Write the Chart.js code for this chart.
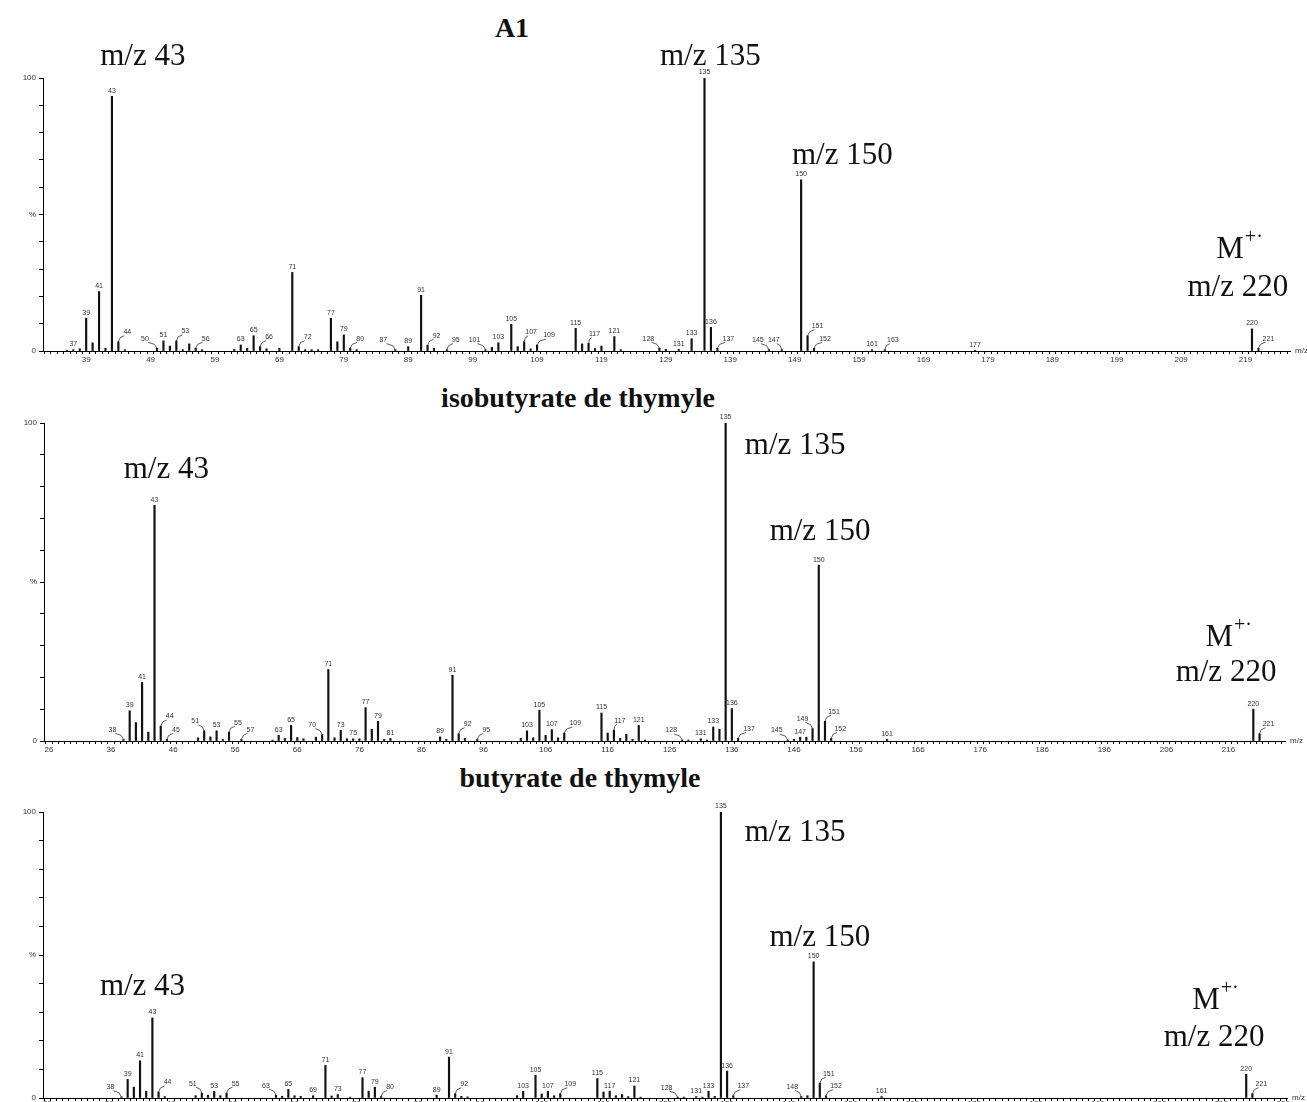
<!DOCTYPE html>
<html>
<head>
<meta charset="utf-8">
<script src="https://cdn.jsdelivr.net/npm/chart.js@4.4.0/dist/chart.umd.min.js"></script>
<style>
  body { margin: 0; width: 1307px; height: 1102px; overflow: hidden; background: #fff; position: relative; }
  canvas { position: absolute; left: 0; }
  .title { position: absolute; font-family: "Liberation Serif", serif; font-weight: bold; font-size: 28px;
           color: #111; white-space: nowrap; transform: translate(-50%, -50%); }
</style>
</head>
<body>
<div class="title" style="left:512px; top:28px;">A1</div>
<div class="title" style="left:578px; top:398px;">isobutyrate de thymyle</div>
<div class="title" style="left:580px; top:778px;">butyrate de thymyle</div>
<canvas id="specA1" width="1307" height="372" style="top:0px"></canvas>
<canvas id="specIso" width="1307" height="390" style="top:372px"></canvas>
<canvas id="specBut" width="1307" height="357" style="top:762px"></canvas>
<script>
// A1 spectrum (m/z, relative intensity %)
var mzA1 = [36, 37, 38, 39, 40, 41, 42, 43, 44, 45, 50, 51, 52, 53, 54, 55, 56, 57, 62, 63, 64, 65, 66, 67, 69,
  71, 72, 73, 74, 75, 77, 78, 79, 80, 81, 87, 89, 91, 92, 93, 95, 101, 102, 103, 105, 106, 107, 108, 109,
  115, 116, 117, 118, 119, 121, 122, 128, 129, 131, 133, 135, 136, 137, 145, 147, 150, 151, 152, 161, 163,
  177, 220, 221];
var intA1 = [0.3, 0.5, 0.8, 12, 3, 21.8, 1, 93.3, 3.4, 0.5, 1, 3.7, 1.8, 3.7, 0.5, 2.6, 1, 0.5, 0.6, 2.2, 1, 5.6, 1.6, 0.8, 1,
  28.8, 1.6, 0.5, 0.5, 0.5, 12, 3.4, 5.9, 1, 0.5, 0.5, 1.6, 20.4, 2.1, 1, 0.5, 0.5, 1.3, 3, 9.8, 1.6, 3.4, 0.8, 2.2,
  8.3, 2.6, 2.8, 0.9, 1.8, 5.3, 0.5, 1, 0.6, 0.6, 4.5, 100, 8.7, 1, 0.5, 0.5, 62.7, 5.6, 1, 0.5, 0.5,
  0.3, 8.1, 1];
var tagA1 = [37, 39, 41, 43, 44, 50, 51, 53, 56, 63, 65, 66, 71, 72, 77, 79, 80, 87, 89, 91, 92, 95, 101, 103, 105,
  107, 109, 115, 117, 121, 128, 131, 133, 135, 136, 137, 145, 147, 150, 151, 152, 161, 163, 177, 220, 221];

// isobutyrate de thymyle
var mzIso = [38, 39, 40, 41, 42, 43, 44, 45, 50, 51, 52, 53, 54, 55, 57, 62, 63, 64, 65, 66, 67, 69, 70, 71, 72,
  73, 74, 75, 76, 77, 78, 79, 80, 81, 89, 90, 91, 92, 93, 95, 102, 103, 104, 105, 106, 107, 108, 109, 115, 116,
  117, 118, 119, 120, 121, 122, 128, 129, 131, 132, 133, 134, 135, 136, 137, 145, 146, 147, 148, 149, 150, 151,
  152, 161, 220, 221];
var intIso = [0.5, 9.5, 5.8, 18.4, 2.8, 74.1, 4.7, 0.5, 1, 3.2, 1.3, 3.2, 0.5, 2.8, 0.5, 0.3, 1.8, 0.8, 4.9, 1.1, 0.7, 1.2, 2, 22.5, 1,
  3.4, 0.7, 0.7, 0.7, 10.5, 3.7, 6.2, 0.5, 0.8, 1.3, 0.5, 20.7, 2.3, 0.8, 0.5, 0.8, 3.2, 1, 9.7, 1.8, 3.6, 1, 2.5, 8.8, 2.5,
  3.4, 0.8, 2.1, 0.5, 4.9, 0.3, 0.3, 0.3, 0.7, 0.3, 4.4, 3.7, 100, 10.2, 0.8, 0.3, 0.5, 1.2, 1.2, 3.9, 55.3, 6.2,
  0.8, 0.5, 10, 2.3];
var tagIso = [38, 39, 41, 43, 44, 45, 51, 53, 55, 57, 63, 65, 70, 71, 73, 75, 77, 79, 81, 89, 91, 92, 95, 103, 105,
  107, 109, 115, 117, 121, 128, 131, 133, 135, 136, 137, 145, 147, 149, 150, 151, 152, 161, 220, 221];

// butyrate de thymyle
var mzBut = [38, 39, 40, 41, 42, 43, 44, 45, 50, 51, 52, 53, 54, 55, 63, 64, 65, 66, 67, 69, 71, 72, 73, 75, 77,
  78, 79, 80, 89, 91, 92, 93, 94, 102, 103, 105, 106, 107, 108, 109, 115, 116, 117, 118, 119, 120, 121, 122,
  128, 129, 131, 132, 133, 134, 135, 136, 137, 148, 149, 150, 151, 152, 161, 220, 221];
var intBut = [0.4, 6.5, 3.8, 13, 2.4, 28, 2.1, 0.5, 0.8, 1.7, 1, 2.3, 0.8, 1.7, 1, 0.6, 3, 0.8, 0.6, 0.8, 11.4, 0.7, 1.2, 0.3, 7.1,
  2.4, 3.8, 0.5, 1, 14.3, 1.5, 0.6, 0.4, 0.8, 2.3, 7.9, 1.4, 2.4, 0.8, 1.5, 6.8, 2.1, 2.4, 0.8, 1.2, 0.5, 4.2, 0.3,
  0.3, 0.3, 0.5, 0.3, 2.4, 0.6, 100, 9.4, 0.8, 0.5, 0.8, 47.6, 5.2, 0.8, 0.5, 8.3, 1.5];
var tagBut = [38, 39, 41, 43, 44, 51, 53, 55, 63, 65, 69, 71, 73, 77, 79, 80, 89, 91, 92, 103, 105, 107, 109, 115,
  117, 121, 128, 131, 133, 135, 136, 137, 148, 150, 151, 152, 161, 220, 221];

// labels pushed sideways with a small leader line (px offset)
var shiftA1 = {44: 6, 50: -9, 53: 6, 56: 7, 66: 6, 72: 6, 80: 7, 87: -9, 92: 6, 95: 6, 101: -8, 107: 4, 109: 9,
  117: 3, 128: -8, 137: 8, 145: -8, 147: -5, 151: 7, 152: 8, 163: 5, 221: 7};
var shiftIso = {38: -8, 44: 6, 45: 6, 51: -6, 55: 6, 57: 6, 70: -7, 92: 6, 95: 6, 109: 8, 117: 3, 128: -8, 137: 8,
  145: -8, 149: -7, 151: 6, 152: 6, 221: 6};
var shiftBut = {38: -8, 44: 6, 51: -6, 55: 6, 63: -7, 80: 6, 92: 6, 109: 7, 128: -8, 137: 7, 148: -6, 151: 6,
  152: 7, 221: 6};

var bigFont = '31px "Liberation Serif", serif';

// peak numbers above the sticks
var peakLabels = {
  id: 'peakLabels',
  afterDatasetsDraw: function(chart) {
    var ctx = chart.ctx;
    var opt = chart.options.plugins.peakLabels;
    var pts = chart.data.datasets[0].data;
    var meta = chart.getDatasetMeta(0);
    ctx.save();
    ctx.font = '7px "Liberation Sans", sans-serif';
    ctx.fillStyle = '#333';
    ctx.strokeStyle = '#333';
    ctx.lineWidth = 0.8;
    ctx.textAlign = 'center';
    ctx.textBaseline = 'bottom';
    meta.data.forEach(function(bar, i) {
      var m = pts[i].x;
      if (opt.tags.indexOf(m) === -1) return;
      var dx = opt.shift[m] || 0;
      if (dx) {
        // leader line from the stick top to the label
        ctx.beginPath();
        ctx.moveTo(bar.x, bar.y);
        ctx.lineTo(bar.x + dx * 0.3, bar.y - 4);
        ctx.lineTo(bar.x + dx, bar.y - 6);
        ctx.stroke();
        ctx.fillText(String(m), bar.x + dx + (dx > 0 ? 3 : -3), bar.y - 6);
      } else {
        ctx.fillText(String(m), bar.x, bar.y - 2);
      }
    });
    // axis unit at the right end
    var xs = chart.scales.x;
    ctx.font = '8px "Liberation Sans", sans-serif';
    ctx.textAlign = 'left';
    ctx.textBaseline = 'middle';
    ctx.fillText('m/z', xs.right + 5, xs.top);
    ctx.restore();
  }
};

// the m/z call-outs, placed in data coordinates
var notes = {
  id: 'notes',
  afterDraw: function(chart) {
    var ctx = chart.ctx;
    var xs = chart.scales.x, ys = chart.scales.y;
    ctx.save();
    ctx.fillStyle = '#111';
    ctx.textAlign = 'center';
    ctx.textBaseline = 'middle';
    chart.options.plugins.notes.items.forEach(function(n) {
      var px = xs.getPixelForValue(n.mz);
      var py = ys.getPixelForValue(n.pct);
      ctx.font = bigFont;
      ctx.fillText(n.text, px, py);
      if (n.sup) {
        var w = ctx.measureText(n.text).width;
        ctx.font = '20px "Liberation Serif", serif';
        ctx.textAlign = 'left';
        ctx.fillText(n.sup, px + w / 2 + 1, py - 12);
        ctx.textAlign = 'center';
      }
    });
    ctx.restore();
  }
};

function drawSpectrum(id, mz, intensity, tags, shift, cfg) {
  var points = mz.map(function(m, i) { return {x: m, y: intensity[i]}; });

  return new Chart(document.getElementById(id), {
    type: 'bar',
    data: {
      datasets: [{
        data: points,
        backgroundColor: '#111',
        barThickness: 1.5,
        grouped: false
      }]
    },
    options: {
      responsive: false,
      animation: false,
      layout: { padding: { top: cfg.top, right: cfg.right, left: 0, bottom: 0 } },
      plugins: {
        legend: { display: false },
        tooltip: { enabled: false },
        peakLabels: { tags: tags, shift: shift },
        notes: { items: cfg.notes }
      },
      scales: {
        x: {
          type: 'linear',
          min: cfg.xMin,
          max: cfg.xMax,
          afterFit: function(scale) { scale.height = 21; },
          border: { display: true, color: '#000', width: 1 },
          grid: { display: true, drawOnChartArea: false, drawTicks: true, tickLength: 3, color: '#000' },
          ticks: {
            stepSize: 1,
            includeBounds: false,
            autoSkip: false,
            maxRotation: 0,
            minRotation: 0,
            padding: cfg.tickPad,
            color: '#333',
            font: { family: '"Liberation Sans", sans-serif', size: 8 },
            callback: function(v) { return (v - cfg.firstTick) % 10 === 0 ? String(v) : ''; }
          }
        },
        y: {
          min: 0,
          max: 100,
          afterFit: function(scale) { scale.width = cfg.yWidth; },
          border: { display: true, color: '#000', width: 1 },
          grid: { display: true, drawOnChartArea: false, drawTicks: true, tickLength: 4, color: '#000' },
          ticks: {
            stepSize: 10,
            padding: 3,
            color: '#333',
            font: { family: '"Liberation Sans", sans-serif', size: 8 },
            callback: function(v) {
              if (v === 0) return '0';
              if (v === 50) return '%';
              if (v === 100) return '100';
              return '';
            }
          }
        }
      }
    },
    plugins: [peakLabels, notes]
  });
}

drawSpectrum('specA1', mzA1, intA1, tagA1, shiftA1, {
  xMin: 32.8, xMax: 225.4, firstTick: 39, top: 78, right: 17, yWidth: 43, tickPad: 1,
  notes: [
    {text: 'm/z 43', mz: 47.8, pct: 107.7},
    {text: 'm/z 135', mz: 135.9, pct: 107.7},
    {text: 'm/z 150', mz: 156.4, pct: 71.4},
    {text: 'M', sup: '+·', mz: 216.6, pct: 37},
    {text: 'm/z 220', mz: 217.8, pct: 23.1}
  ]
});

drawSpectrum('specIso', mzIso, intIso, tagIso, shiftIso, {
  xMin: 25.7, xMax: 224.6, firstTick: 36, top: 51, right: 22, yWidth: 44, tickPad: 1,
  notes: [
    {text: 'm/z 43', mz: 44.9, pct: 85.2},
    {text: 'm/z 135', mz: 146.2, pct: 92.8},
    {text: 'm/z 150', mz: 150.2, pct: 65.7},
    {text: 'M', sup: '+·', mz: 214.5, pct: 32.4},
    {text: 'm/z 220', mz: 215.6, pct: 21.4}
  ]
});

drawSpectrum('specBut', mzBut, intBut, tagBut, shiftBut, {
  xMin: 25.8, xMax: 226.1, firstTick: 36, top: 50, right: 20, yWidth: 43, tickPad: -2,
  notes: [
    {text: 'm/z 43', mz: 41.4, pct: 38.8},
    {text: 'm/z 135', mz: 147.0, pct: 92.7},
    {text: 'm/z 150', mz: 151.0, pct: 55.9},
    {text: 'M', sup: '+·', mz: 213.5, pct: 33.9},
    {text: 'm/z 220', mz: 214.8, pct: 21}
  ]
});
</script>
</body>
</html>
